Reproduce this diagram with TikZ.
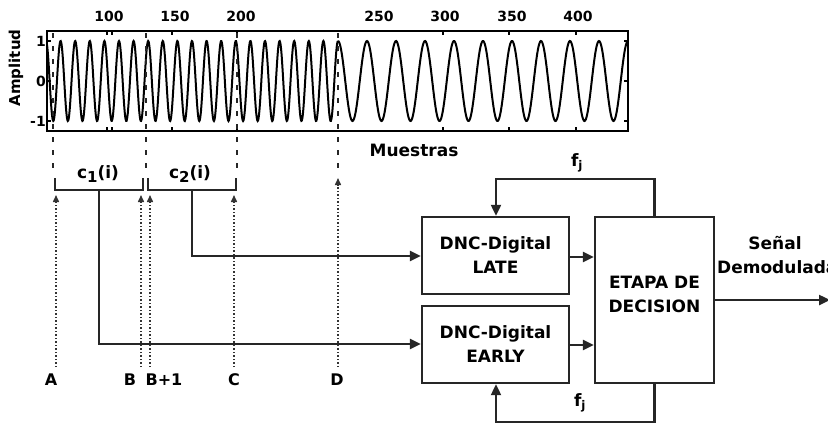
\documentclass[tikz,border=0pt]{standalone}
\usepackage{fontspec}
\setmainfont{DejaVu Sans}
\usetikzlibrary{positioning}
\usetikzlibrary{arrows.meta}

\begin{document}
\begin{tikzpicture}[
    x=1pt, y=-1pt,
    font=\bfseries\fontsize{17}{24}\selectfont
]
\tikzset{
    blockbox/.style = {draw=black!85, line width=2.4pt, minimum width=147pt, minimum height=77pt, align=center, inner sep=0pt},
    decbox/.style = {draw=black!85, line width=2.4pt, minimum width=119pt, minimum height=166pt, align=center, inner sep=0pt},
    sigline/.style = {-{Triangle[length=11pt,width=10pt]}, line width=2.4pt, black!85},
    fbline/.style = {-{Triangle[length=11pt,width=10pt]}, line width=2.2pt, black!85},
    bracketline/.style = {line width=2.4pt, black!85},
    markline/.style = {line width=2.6pt, dash pattern=on 5pt off 8pt, black!85},
    sampleline/.style = {-{Triangle[length=7pt,width=6pt]}, line width=1.5pt, dotted, black!80},
    ticklab/.style = {font=\bfseries\fontsize{14}{16}\selectfont},
    ptlab/.style = {font=\bfseries\fontsize{16}{18}\selectfont}
}
\newcommand{\lowsub}[1]{\raisebox{-4pt}{\fontsize{15}{15}\selectfont #1}}
\useasboundingbox (0,0) rectangle (828,424);

% signal plot
\draw[line width=2pt] plot[domain=47:338, samples=700] (\x, {81-40*cos((\x-338)/14.6*360)});
\draw[line width=2pt] plot[domain=338:628, samples=400] (\x, {81-40*cos((\x-338)/29*360)});
\draw[line width=2.2pt] (47,31) rectangle (628,131);
\foreach \t in {107,112,172,237,443,509,576} {
    \draw[line width=1.2pt] (\t,31) -- (\t,35);
    \draw[line width=1.2pt] (\t,131) -- (\t,127);
}
\foreach \t in {41,81,121} {
    \draw[line width=1.2pt] (47,\t) -- (51,\t);
    \draw[line width=1.2pt] (628,\t) -- (624,\t);
}
\foreach \v/\t in {1/41,0/81,-1/121}
    \node[ticklab, anchor=east, inner sep=0pt] at (46,\t) {\v};
\foreach \v/\t in {100/109,150/175,200/241,250/379,300/445,350/512,400/578}
    \node[ticklab, inner sep=0pt] at (\t,16) {\v};
\node[rotate=90, font=\bfseries\fontsize{15}{17}\selectfont] (amp) at (16,68) {Amplitud};
\node (mue) at (414,150) {Muestras};

% sample markers
\foreach \m in {53,146,237,338}
    \draw[markline] (\m,33) -- (\m,168);

% brackets
\draw[bracketline] (55,178) -- (55,190) -- (143,190) -- (143,178);
\draw[bracketline] (148,178) -- (148,190) -- (236,190) -- (236,178);
\node (c1) at (98,174) {c\lowsub{1}(i)};
\node (c2) at (190,174) {c\lowsub{2}(i)};
\coordinate (c1m) at (99,190);
\coordinate (c2m) at (192,190);

% sample points
\node[ptlab] (A) at (51,380) {A};
\node[ptlab] (B) at (130,380) {B};
\node[ptlab] (B1) at (164,380) {B+1};
\node[ptlab] (C) at (234,380) {C};
\node[ptlab] (D) at (337,380) {D};
\draw[sampleline] (56,367) -- (56,195);
\draw[sampleline] (141,367) -- (141,195);
\draw[sampleline] (150,367) -- (150,195);
\draw[sampleline] (234,367) -- (234,195);
\draw[sampleline] (338,367) -- (338,178);

% blocks
\node[blockbox] (late) at (495.5,255.5) {DNC-Digital\\LATE};
\node[blockbox] (early) at (495.5,344.5) {DNC-Digital\\EARLY};
\node[decbox] (dec) at (654.5,300) {\\ETAPA DE\\DECISION\\};

\draw[sigline] (c2m) |- (late.west |- 0,256);
\draw[sigline] (c1m) |- (early.west |- 0,344);
\draw[sigline] (late.east |- 0,257) -- (dec.west |- 0,257);
\draw[sigline] (early.east |- 0,345) -- (dec.west |- 0,345);

% feedback
\draw[fbline] (dec.north) |- (496,179) -- (late.north -| 496,0);
\draw[fbline] (dec.south) |- (496,422) -- (early.south -| 496,0);
\node (fjtop) at (577,163) {f$_{\mathbf{j}}$};
\node (fjbot) at (580,403) {f$_{\mathbf{j}}$};

% output
\coordinate (out) at (830,300);
\draw[sigline] (dec.east |- 0,300) -- (out);
\node (sen) at (775,243) {Señal};
\node[anchor=west, inner sep=0pt] (dem) at (717,267) {Demodulada};
\end{tikzpicture}
\end{document}
